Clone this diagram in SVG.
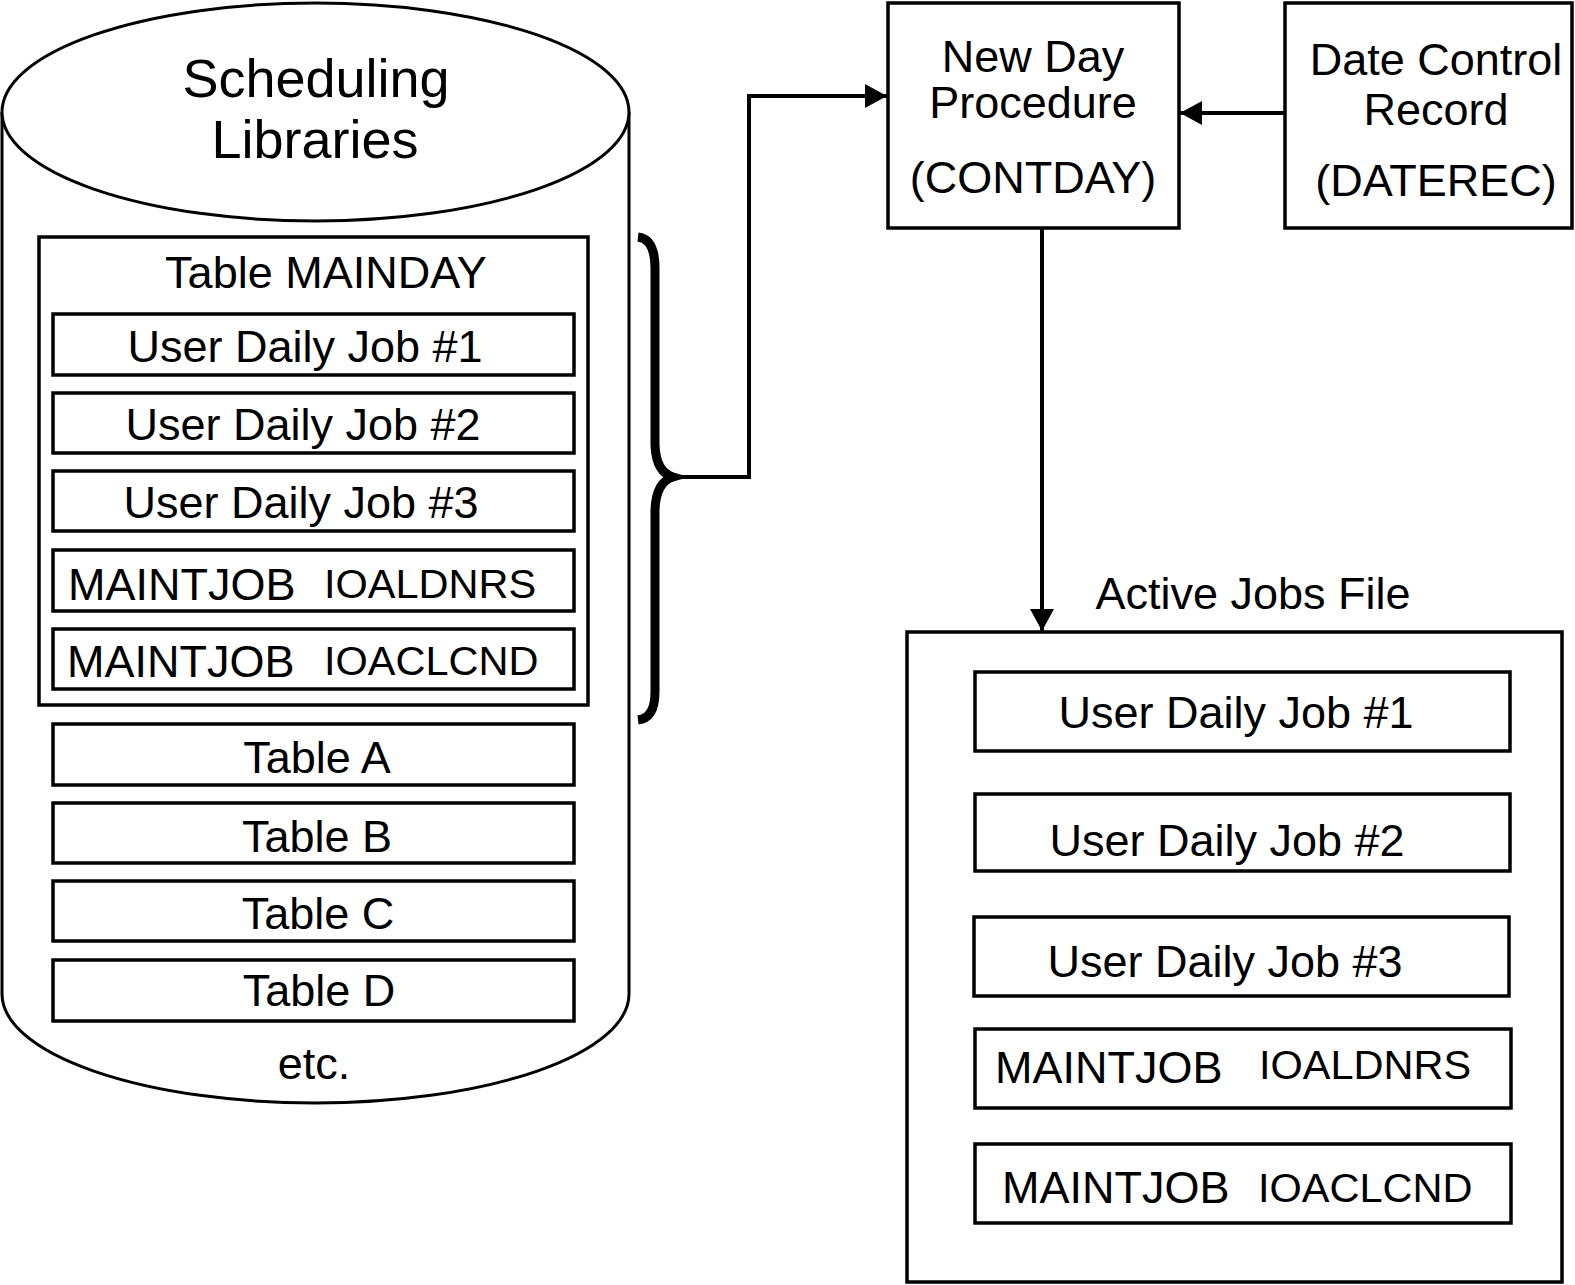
<svg xmlns="http://www.w3.org/2000/svg" width="1575" height="1285" viewBox="0 0 1575 1285">
<defs>
<style>
text{font-family:"Liberation Sans",Arial,sans-serif;fill:#000}
.c{text-anchor:middle}
.box{fill:#fff;stroke:#000;stroke-width:3.5}
.frame{fill:none;stroke:#000;stroke-width:3.5}
.ln{fill:none;stroke:#000;stroke-width:4}
.f45{font-size:45px}
.f41{font-size:41.5px}
.f54{font-size:54px}
</style>
<marker id="ah" markerUnits="userSpaceOnUse" markerWidth="22" markerHeight="24" refX="22" refY="12" orient="auto">
<path d="M0,0 L22,12 L0,24 Z" fill="#000"/>
</marker>
</defs>
<rect width="1575" height="1285" fill="#fff"/>

<g id="scheduling-libraries">
<path d="M2,112 V994 A313.5,109 0 0 0 629,994 V112" fill="#fff" stroke="#000" stroke-width="3"/>
<ellipse cx="315.5" cy="112" rx="313.5" ry="109" fill="#fff" stroke="#000" stroke-width="3"/>
<text class="c f54" x="316" y="97">Scheduling</text>
<text class="c f54" x="315" y="158">Libraries</text>
<text class="c f45" x="314" y="1079">etc.</text>
</g>

<g id="table-mainday">
<rect class="frame" x="39" y="237" width="549" height="468"/>
<text class="c f45" x="326" y="288">Table MAINDAY</text>
</g>
<g id="lib-job1"><rect class="box" x="53" y="314" width="521" height="61"/><text class="c f45" x="305" y="362">User Daily Job #1</text></g>
<g id="lib-job2"><rect class="box" x="53" y="393" width="521" height="60"/><text class="c f45" x="303" y="440">User Daily Job #2</text></g>
<g id="lib-job3"><rect class="box" x="53" y="471" width="521" height="60"/><text class="c f45" x="301" y="518">User Daily Job #3</text></g>
<g id="lib-maint1"><rect class="box" x="53" y="550" width="521" height="61"/><text class="f45" x="68" y="600">MAINTJOB</text><text class="f41" x="324" y="598">IOALDNRS</text></g>
<g id="lib-maint2"><rect class="box" x="53" y="629" width="521" height="60"/><text class="f45" x="67" y="677">MAINTJOB</text><text class="f41" x="324" y="675">IOACLCND</text></g>
<g id="table-a"><rect class="box" x="53" y="724" width="521" height="61"/><text class="c f45" x="317" y="773">Table A</text></g>
<g id="table-b"><rect class="box" x="53" y="803" width="521" height="60"/><text class="c f45" x="317" y="852">Table B</text></g>
<g id="table-c"><rect class="box" x="53" y="881" width="521" height="60"/><text class="c f45" x="318" y="929">Table C</text></g>
<g id="table-d"><rect class="box" x="53" y="960" width="521" height="61"/><text class="c f45" x="319" y="1006">Table D</text></g>

<g id="brace">
<path d="M638,237 Q655,239 655,268 L655,445 Q656,472 673,477 Q656,482 655,510 L655,692 Q655,718 638,720" fill="none" stroke="#000" stroke-width="9"/>
</g>

<g id="new-day-procedure">
<rect class="box" x="888" y="3" width="291" height="225"/>
<text class="c f45" x="1033" y="72">New Day</text>
<text class="c f45" x="1033" y="118">Procedure</text>
<text class="c f45" x="1033" y="193">(CONTDAY)</text>
</g>

<g id="date-control-record">
<rect class="box" x="1285" y="3" width="287" height="225"/>
<text class="c f45" x="1436" y="75">Date Control</text>
<text class="c f45" x="1436" y="125">Record</text>
<text class="c f45" x="1436" y="196">(DATEREC)</text>
</g>

<g id="active-jobs-file">
<text class="c f45" x="1253" y="609">Active Jobs File</text>
<rect class="frame" x="907" y="632" width="655" height="650"/>
</g>
<g id="ajf-job1"><rect class="box" x="975" y="672" width="535" height="79"/><text class="c f45" x="1236" y="728">User Daily Job #1</text></g>
<g id="ajf-job2"><rect class="box" x="975" y="794" width="535" height="77"/><text class="c f45" x="1227" y="856">User Daily Job #2</text></g>
<g id="ajf-job3"><rect class="box" x="974" y="917" width="535" height="79"/><text class="c f45" x="1225" y="977">User Daily Job #3</text></g>
<g id="ajf-maint1"><rect class="box" x="975" y="1029" width="536" height="79"/><text class="f45" x="995" y="1083">MAINTJOB</text><text class="f41" x="1259" y="1079">IOALDNRS</text></g>
<g id="ajf-maint2"><rect class="box" x="975" y="1144" width="536" height="79"/><text class="f45" x="1002" y="1203">MAINTJOB</text><text class="f41" x="1258" y="1202">IOACLCND</text></g>

<g id="connectors">
<path class="ln" d="M673,477 H749 V96 H887" marker-end="url(#ah)"/>
<path class="ln" d="M1285,113 H1180" marker-end="url(#ah)"/>
<path class="ln" d="M1042,228 V631" marker-end="url(#ah)"/>
</g>
</svg>
